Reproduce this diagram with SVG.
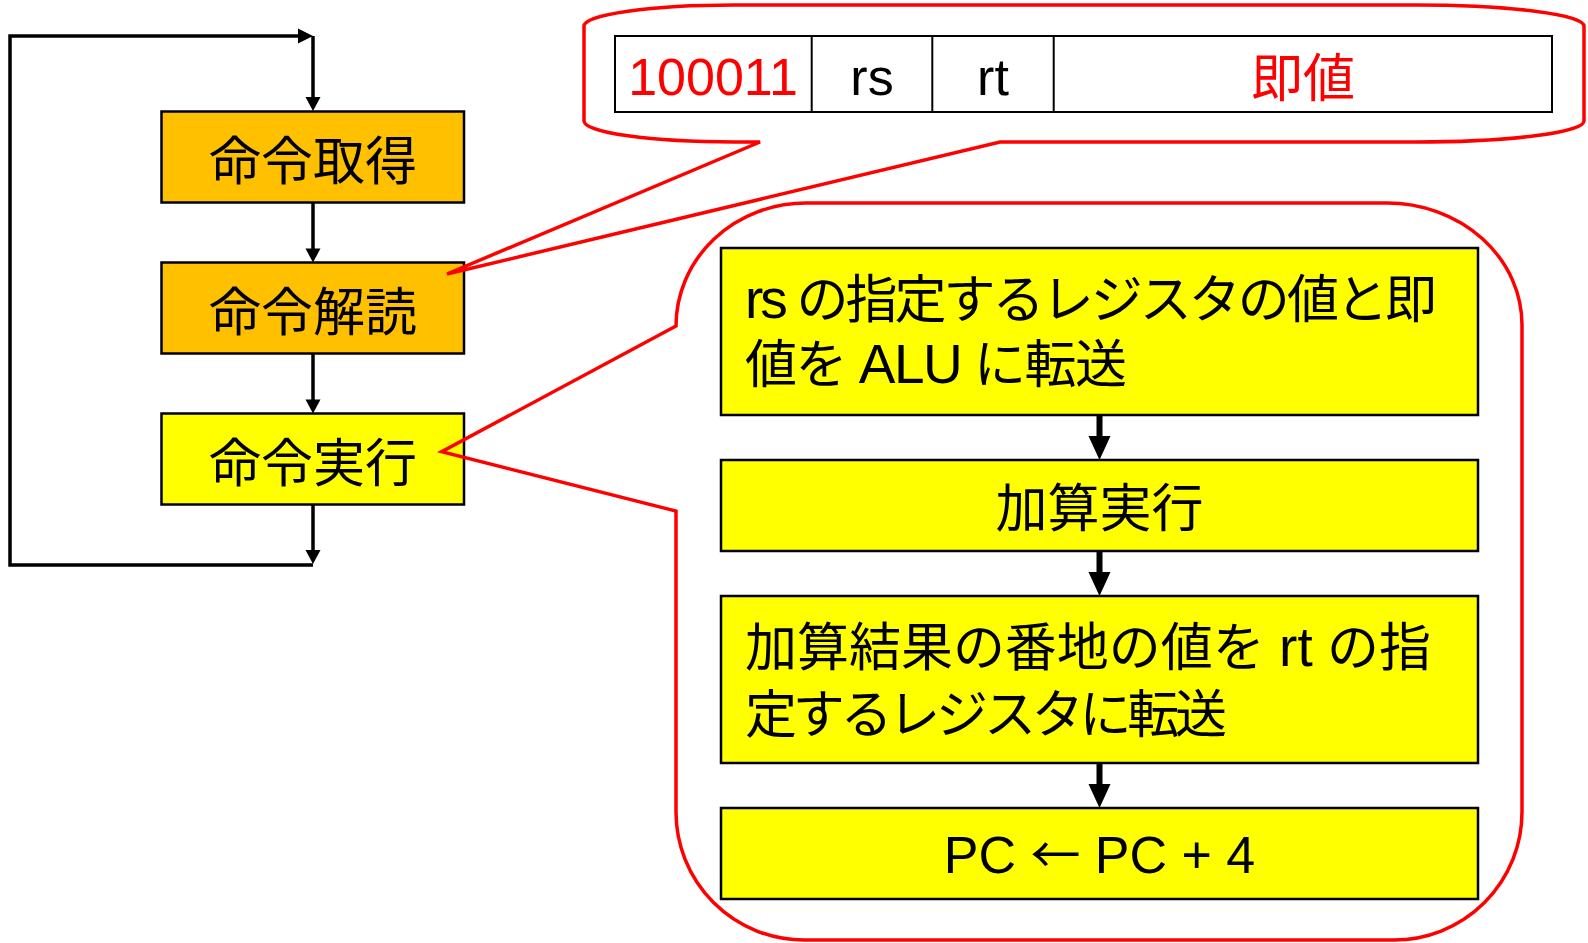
<svg xmlns="http://www.w3.org/2000/svg" width="1588" height="943" viewBox="0 0 1588 943">
<style>
.box{stroke:#000;stroke-width:2.5}
.orange{fill:#FFC000}
.yellow{fill:#FFFF00}
.t{font-family:'Liberation Sans','Noto Sans CJK JP',sans-serif;fill:#000;font-size:52px}
.red{fill:#FF0000}
.thin{stroke:#000;stroke-width:3.5;fill:none}
.thick{stroke:#000;stroke-width:6;fill:none}
.head{fill:#000}
.callout{fill:none;stroke:#FF0000;stroke-width:3.5;stroke-linejoin:miter}
</style>
<rect width="1588" height="943" fill="#fff"/>

<g id="connectors">
  <polyline class="thin" points="313,565 10,565 10,36 299,36"/>
  <polygon class="head" points="298,28.5 313,36 298,43.5"/>
  <line class="thin" x1="313" y1="36" x2="313" y2="98"/>
  <polygon class="head" points="305.5,97 320.5,97 313,111"/>
  <line class="thin" x1="313" y1="202.5" x2="313" y2="249"/>
  <polygon class="head" points="305.5,248.5 320.5,248.5 313,262.5"/>
  <line class="thin" x1="313" y1="353.5" x2="313" y2="400"/>
  <polygon class="head" points="305.5,399.5 320.5,399.5 313,413.5"/>
  <line class="thin" x1="313" y1="504.5" x2="313" y2="551"/>
  <polygon class="head" points="305.5,550 320.5,550 313,564"/>

  <line class="thick" x1="1099.5" y1="415" x2="1099.5" y2="437"/>
  <polygon class="head" points="1088.5,436 1110.5,436 1099.5,460"/>
  <line class="thick" x1="1099.5" y1="551" x2="1099.5" y2="573"/>
  <polygon class="head" points="1088.5,572 1110.5,572 1099.5,596"/>
  <line class="thick" x1="1099.5" y1="763" x2="1099.5" y2="785"/>
  <polygon class="head" points="1088.5,784 1110.5,784 1099.5,808"/>
</g>

<g id="fetch">
  <rect class="box orange" x="161.5" y="111.5" width="302.5" height="91"/>
  <text class="t" x="313" y="180" text-anchor="middle">命令取得</text>
</g>
<g id="decode">
  <rect class="box orange" x="161.5" y="262.5" width="302.5" height="91"/>
  <text class="t" x="313" y="331" text-anchor="middle">命令解読</text>
</g>
<g id="execute">
  <rect class="box yellow" x="161.5" y="413.5" width="302.5" height="91"/>
  <text class="t" x="313" y="482" text-anchor="middle">命令実行</text>
</g>

<g id="format">
  <rect x="615" y="36" width="937" height="76" fill="#fff" stroke="#000" stroke-width="2"/>
  <line x1="811.7" y1="36" x2="811.7" y2="112" stroke="#000" stroke-width="2"/>
  <line x1="932.3" y1="36" x2="932.3" y2="112" stroke="#000" stroke-width="2"/>
  <line x1="1053.7" y1="36" x2="1053.7" y2="112" stroke="#000" stroke-width="2"/>
  <text class="t red" x="713" y="95" text-anchor="middle" font-size="53">100011</text>
  <text class="t" x="872" y="95" text-anchor="middle" font-size="53">rs</text>
  <text class="t" x="993" y="95" text-anchor="middle" font-size="53">rt</text>
  <text class="t red" x="1303" y="97" text-anchor="middle">即値</text>
</g>

<g id="step1">
  <rect class="box yellow" x="721" y="248" width="757" height="167"/>
  <text class="t" x="745" y="318" textLength="692" lengthAdjust="spacing"><tspan font-size="55">rs</tspan> の指定するレジスタの値と即</text>
  <text class="t" x="745" y="383" textLength="382" lengthAdjust="spacing">値を <tspan font-size="55">ALU</tspan> に転送</text>
</g>
<g id="step2">
  <rect class="box yellow" x="721" y="460" width="757" height="91"/>
  <text class="t" x="1099.5" y="527" text-anchor="middle">加算実行</text>
</g>
<g id="step3">
  <rect class="box yellow" x="721" y="596" width="757" height="167"/>
  <text class="t" x="745" y="666" textLength="686" lengthAdjust="spacing">加算結果の番地の値を <tspan font-size="55">rt</tspan> の指</text>
  <text class="t" x="745" y="733" textLength="482" lengthAdjust="spacing">定するレジスタに転送</text>
</g>
<g id="step4">
  <rect class="box yellow" x="721" y="808" width="757" height="91"/>
  <text class="t" x="1099.5" y="873" text-anchor="middle" font-size="53">PC <tspan font-family="'Noto Sans CJK JP',sans-serif" font-size="50">←</tspan> PC + 4</text>
</g>

<g id="callouts">
  <path class="callout" d="M 760,142 L 447,274 L 1000,142 L 1416,142 A 168 21 0 0 0 1584,121 L 1584,26 A 168 21 0 0 0 1416,5 L 734,5 A 150 21 0 0 0 584,26 L 584,121 A 150 21 0 0 0 734,142 Z"/>
  <path class="callout" d="M 676,326 L 441.7,451.7 L 676,511 L 676,812 A 128 128 0 0 0 804,940 L 1394,940 A 128 128 0 0 0 1522,812 L 1522,325 A 135 122 0 0 0 1387,203 L 806,203 A 130 123 0 0 0 676,326 Z"/>
</g>
</svg>
